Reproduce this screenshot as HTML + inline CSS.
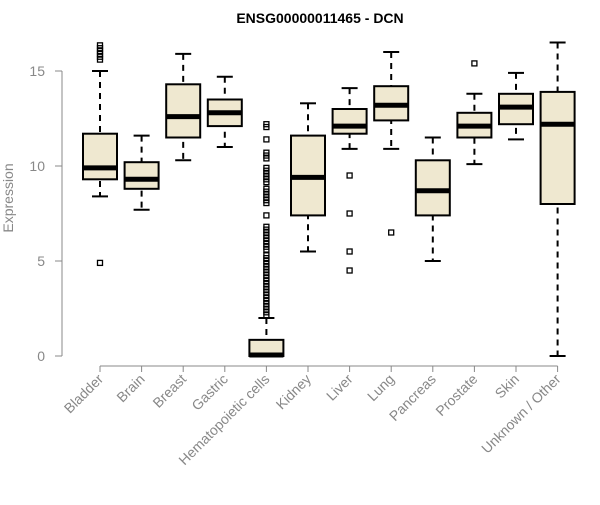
<!DOCTYPE html>
<html><head><meta charset="utf-8"><style>
body{margin:0;background:#fff;}
svg text{font-family:"Liberation Sans",sans-serif;}
</style></head><body>
<svg id="chart" width="600" height="500" xmlns="http://www.w3.org/2000/svg">
<text x="320" y="23" text-anchor="middle" font-size="14" font-weight="bold">ENSG00000011465 - DCN</text>
<text transform="translate(13,198) rotate(-90)" text-anchor="middle" font-size="14" fill="#888">Expression</text>
<g id="plot"></g>
</svg>
<script>
const categories=["Bladder","Brain","Breast","Gastric","Hematopoietic cells","Kidney","Liver","Lung","Pancreas","Prostate","Skin","Unknown / Other"];
const whiskerLow=[8.4,7.7,10.3,11.0,0,5.5,10.9,10.9,5.0,10.1,11.4,0];
const q1=[9.3,8.8,11.5,12.1,0,7.4,11.7,12.4,7.4,11.5,12.2,8.0];
const median=[9.9,9.3,12.6,12.8,0.05,9.4,12.1,13.2,8.7,12.1,13.1,12.2];
const q3=[11.7,10.2,14.3,13.5,0.85,11.6,13.0,14.2,10.3,12.8,13.8,13.9];
const whiskerHigh=[15.0,11.6,15.9,14.7,2.0,13.3,14.1,16.0,11.5,13.8,14.9,16.5];
const outliers=[[4.9,15.6,15.75,15.9,16.05,16.2,16.35],[],[],[],
 [12.2,12.05,11.4,10.7,10.55,10.4,9.9,9.75,9.6,9.45,9.3,9.15,8.8,8.65,8.5,8.35,8.2,8.05,7.4,6.8,6.65,6.5,6.35,6.2,6.05,5.9,5.75,5.6,5.3,5.15,5.0,4.85,4.7,4.55,4.4,4.25,4.1,3.95,3.8,3.65,3.5,3.35,3.2,3.05,2.9,2.75,2.6,2.45,2.3,2.15],
 [],[9.5,7.5,5.5,4.5],[6.5],[],[15.4],[],[]];
const yTicks=[0,5,10,15];
const NS="http://www.w3.org/2000/svg";
const g=document.getElementById('plot');
const yS=v=>356-v*19;
const xS=i=>100+i*41.6;
function el(t,a){const e=document.createElementNS(NS,t);for(const k in a)e.setAttribute(k,a[k]);g.appendChild(e);return e;}
let ax=el('line',{x1:62,x2:62,y1:yS(0),y2:yS(15),stroke:'#888'});


yTicks.forEach(t=>{
 let l=el('line',{x1:55,x2:62,y1:yS(t),y2:yS(t),stroke:'#888'});
 
 
 let tx=el('text',{x:45,y:yS(t)+5,'text-anchor':'end','font-size':14,fill:'#888'});
 tx.textContent=t;
 
 
});
let xa=el('line',{x1:xS(0),x2:xS(11),y1:366,y2:366,stroke:'#888'});


categories.forEach((c,i)=>{
 const x=xS(i),w=17;
 let tk=el('line',{x1:x,x2:x,y1:366,y2:372,stroke:'#888'});
 
 
 let wl=el('line',{x1:x,x2:x,y1:yS(whiskerHigh[i]),y2:yS(whiskerLow[i]),stroke:'#000','stroke-width':2,'stroke-dasharray':'6,5'});
 
 
 [whiskerHigh[i],whiskerLow[i]].forEach(v=>{
  let cap=el('line',{x1:x-8,x2:x+8,y1:yS(v),y2:yS(v),stroke:'#000','stroke-width':2});
  
  
 });
 let b=el('rect',{x:x-w,y:yS(q3[i]),width:2*w,height:yS(q1[i])-yS(q3[i]),fill:'#efe8d0',stroke:'#000','stroke-width':2});
 
 
 let m=el('line',{x1:x-w,x2:x+w,y1:yS(median[i]),y2:yS(median[i]),stroke:'#000','stroke-width':5});
 
 
 outliers[i].forEach(v=>{
  let o=el('rect',{x:x-2.5,y:yS(v)-2.5,width:5,height:5,fill:'none',stroke:'#000','stroke-width':1.3});
  
  
 });
 let lb=el('text',{x:x+4,y:380,'text-anchor':'end','font-size':14,fill:'#888',transform:`rotate(-45 ${x+4} 380)`});
 lb.textContent=c;
 
 
});
</script>
</body></html>
